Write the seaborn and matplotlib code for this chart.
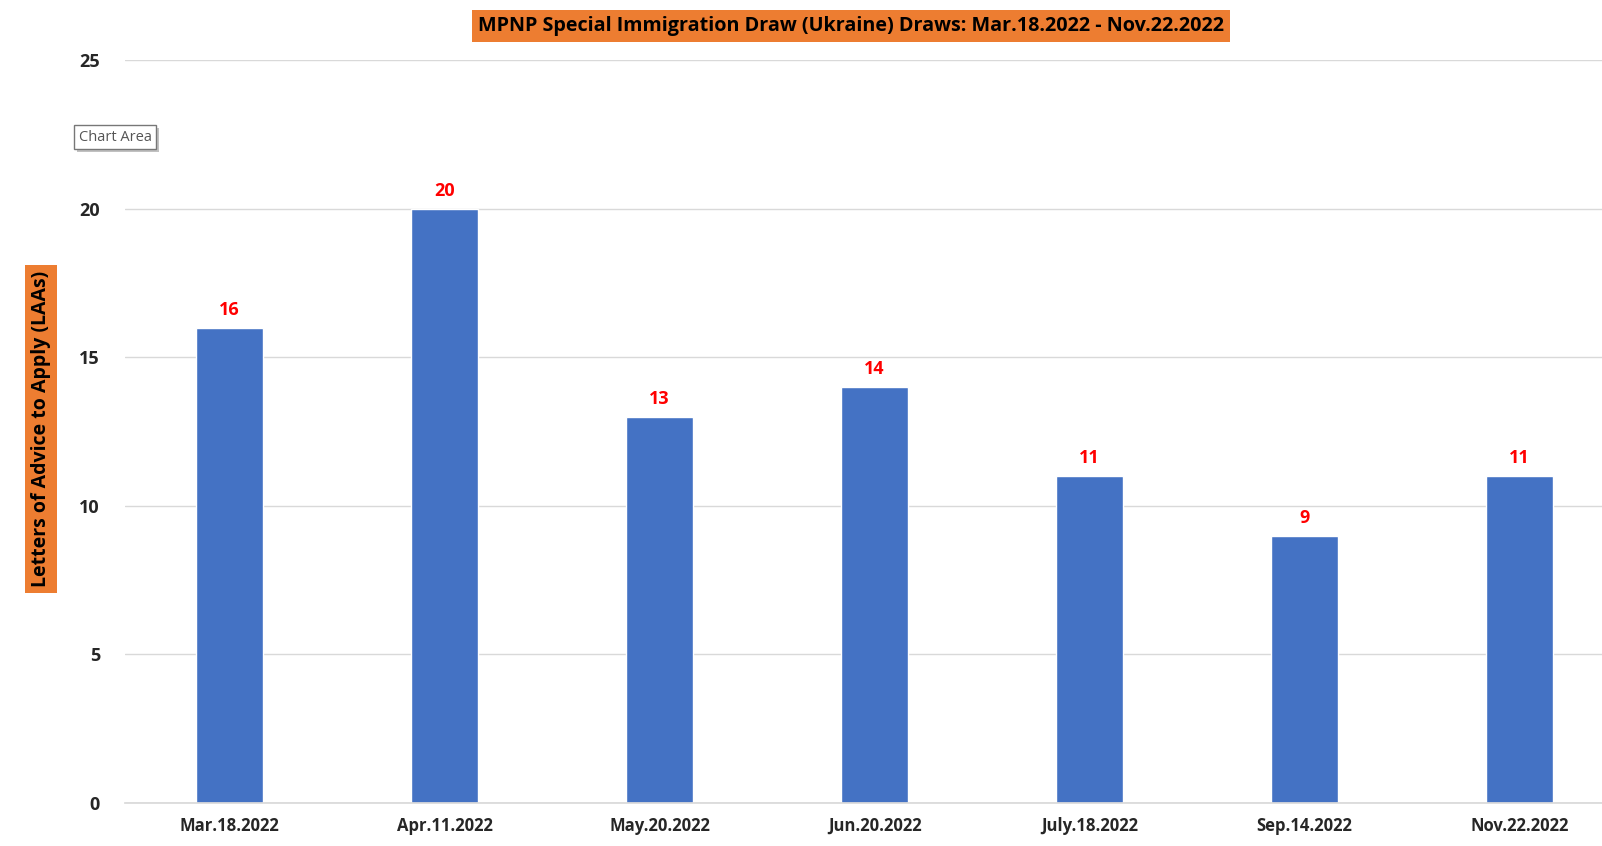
import matplotlib
matplotlib.use("Agg")
import matplotlib.pyplot as plt
import seaborn as sns
import pandas as pd
from matplotlib.font_manager import fontManager
from matplotlib import patheffects

draws = ["Mar.18.2022", "Apr.11.2022", "May.20.2022", "Jun.20.2022",
         "July.18.2022", "Sep.14.2022", "Nov.22.2022"]
laas = [16, 20, 13, 14, 11, 9, 11]
yticks = [0, 5, 10, 15, 20, 25]

names = {f.name for f in fontManager.ttflist}
fam = "Liberation Sans Narrow" if "Liberation Sans Narrow" in names else "Open Sans"

sns.set_theme(style="white")
plt.rcParams["font.family"] = [fam, "DejaVu Sans"]

df = pd.DataFrame({"draw": draws, "laas": laas})

fig = plt.figure(figsize=(16.02, 8.46), dpi=100)
ax = fig.add_axes([0.078, 0.0508, 0.922, 0.878])
sns.barplot(data=df, x="draw", y="laas", color="#4472C4", saturation=1,
            width=0.31, ax=ax)

for i, v in enumerate(laas):
    ax.text(i, v + 0.3, str(v), ha="center", va="bottom", color="red",
            fontsize=13, fontweight="bold")

ax.set_ylim(0, 25)
ax.set_xlim(-0.487, 6.383)
ax.set_yticks(yticks)
ax.set_yticklabels([str(t) for t in yticks], fontsize=13, fontweight="bold")
ax.tick_params(axis="y", length=0, pad=18)
ax.tick_params(axis="x", length=0, pad=10, labelsize=12)
for lab in ax.get_xticklabels():
    lab.set_fontweight("bold")
ax.yaxis.grid(True, color="#D9D9D9", linewidth=1)
ax.set_axisbelow(True)
for s in ["top", "right", "left"]:
    ax.spines[s].set_visible(False)
ax.spines["bottom"].set_color("#D9D9D9")
ax.set_xlabel("")
ax.set_ylabel("")

fig.text(0.531, 0.969, "MPNP Special Immigration Draw (Ukraine) Draws: Mar.18.2022 - Nov.22.2022",
         ha="center", va="center", fontsize=14.2, fontweight="bold", color="black",
         bbox=dict(boxstyle="square,pad=0.3", facecolor="#ED7D31", edgecolor="none"))
fig.text(0.0256, 0.493, "Letters of Advice to Apply (LAAs)", rotation=90,
         ha="center", va="center", fontsize=14, fontweight="bold", color="black",
         bbox=dict(boxstyle="square,pad=0.3", facecolor="#ED7D31", edgecolor="none"))
tip = fig.text(0.0720, 0.8380, "Chart Area", ha="center", va="center", fontsize=10.5,
               color="#555555",
               bbox=dict(boxstyle="square,pad=0.3", facecolor="white", edgecolor="#777777"))
tip.get_bbox_patch().set_path_effects([patheffects.SimplePatchShadow(offset=(2, -2), shadow_rgbFace="#999999", alpha=0.6),
                                       patheffects.Normal()])

fig.savefig("out.png", dpi=100)
